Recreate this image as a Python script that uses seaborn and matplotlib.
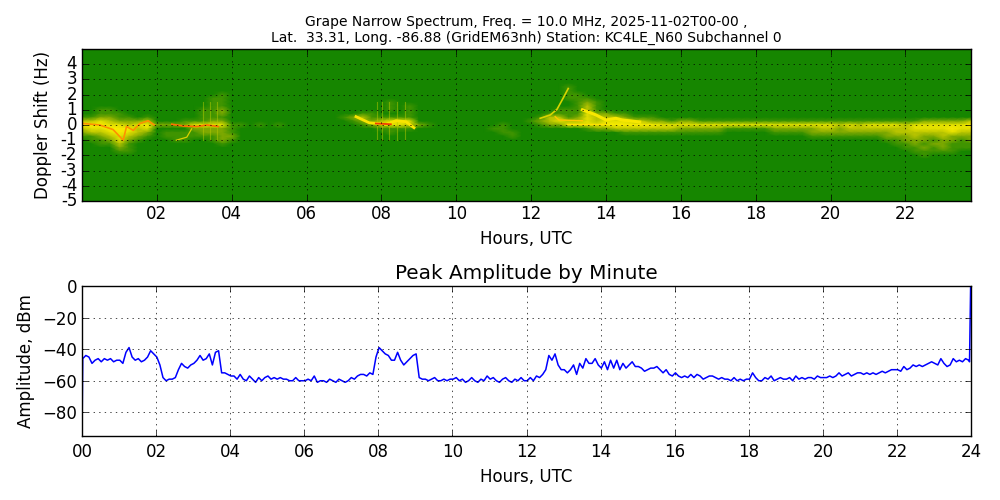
import numpy as np
import pandas as pd
import seaborn as sns
import matplotlib.pyplot as plt
from matplotlib.colors import LinearSegmentedColormap

# spectrogram intensity, 0 = background, 9 = peak
# each band: the hours where it is not background, 4 samples per hour
spec_cells = {
    2.5: {13: "1000"},
    2.25: {13: "1000"},
    2.0: {3: "0001", 13: "1100"},
    1.75: {3: "0011", 13: "1110"},
    1.5: {3: "0011", 8: "0100", 13: "0121"},
    1.25: {3: "0011", 8: "0101", 13: "0131"},
    1.0: {0: "0011", 3: "0112", 8: "0101", 12: "0001", 13: "1131"},
    0.75: {0: "0011", 1: "1000", 3: "0112", 7: "0011", 8: "0001", 12: "0011", 13: "1142", 14: "2110"},
    0.5: {0: "1122", 1: "1101", 3: "0111", 7: "1231", 8: "1111", 12: "0133", 13: "1243", 14: "3321", 15: "1100"},
    0.25: {0: "3343", 1: "2223", 2: "0001", 3: "1122", 7: "0122", 8: "3444", 12: "1234", 13: "3343", 14: "4443",
           15: "3221", 16: "2211", 17: "1111", 18: "1111", 19: "1111", 20: "1111", 21: "1111", 22: "1122", 23: "2223"},
    0.0: {0: "5554", 1: "4345", 2: "2222", 3: "4444", 4: "1101", 5: "0100", 7: "0012", 8: "3443", 9: "2100",
          11: "0100", 12: "0122", 13: "4444", 14: "5555", 15: "5544", 16: "4444", 17: "4444", 18: "4444",
          19: "4444", 20: "4343", 21: "4444", 22: "3444", 23: "4445"},
    -0.25: {0: "3445", 1: "5534", 3: "2222", 4: "1000", 8: "1111", 11: "1100", 13: "0012", 14: "2333", 15: "3333",
            16: "2222", 17: "2111", 18: "1122", 19: "2223", 20: "3233", 21: "3333", 22: "3444", 23: "4544"},
    -0.5: {0: "2334", 1: "5432", 2: "0111", 3: "1222", 4: "1000", 8: "0100", 11: "0110", 14: "0011", 15: "1111",
           16: "1111", 17: "1000", 18: "0011", 19: "1122", 20: "2222", 21: "2223", 22: "3333", 23: "3433"},
    -0.75: {0: "1123", 1: "4321", 2: "0111", 3: "1112", 4: "2000", 11: "0010", 19: "0011", 20: "1111",
            21: "1122", 22: "2322", 23: "3222"},
    -1.0: {0: "0112", 1: "4210", 2: "0011", 3: "0012", 4: "1000", 21: "0011", 22: "2221", 23: "2212"},
    -1.25: {0: "0011", 1: "3100", 3: "0001", 21: "0001", 22: "1212", 23: "2111"},
    -1.5: {1: "2100", 22: "1121", 23: "2111"},
    -1.75: {1: "1100", 22: "0111", 23: "1100"},
    -2.0: {22: "0010"},
}

# carrier traces on the spectrogram (hours, Hz)
trace_a_hours = [0.03, 0.475, 0.83, 1.10, 1.19, 1.37, 1.55, 1.77, 1.93]
trace_a_hz = [0.1, 0.0, -0.3, -1.0, -0.1, -0.35, 0.1, 0.28, 0.0]
trace_b_hours = [2.40, 2.71, 3.07, 3.34, 3.64]
trace_b_hz = [0.05, -0.07, -0.1, 0.0, -0.1]
trace_c_hours = [2.52, 2.80, 2.93]
trace_c_hz = [-1.0, -0.8, -0.25]
trace_d_hours = [7.32, 7.67, 7.90, 8.12, 8.39, 8.65, 8.87]
trace_d_hz = [0.55, 0.15, 0.1, 0.05, 0.28, 0.22, -0.18]
trace_d_red_hours = [7.85, 8.25]
trace_d_red_hz = [0.1, 0.05]
trace_e_hours = [12.24, 12.51, 12.69, 12.85, 12.99]
trace_e_hz = [0.44, 0.66, 1.03, 1.75, 2.4]
trace_f_hours = [12.64, 12.74, 13.37]
trace_f_hz = [0.55, 0.33, 0.28]
trace_g_hours = [12.97, 14.0]
trace_g_hz = [0.05, 0.05]
trace_h_hours = [13.37, 13.73, 14.0, 14.26, 14.43, 14.9]
trace_h_hz = [1.0, 0.66, 0.33, 0.44, 0.33, 0.2]
streak_hours = [3.22, 3.42, 3.61, 7.89, 8.02, 8.19, 8.42, 8.63]

# peak amplitude, one value every 5 min (dBm), one line per hour
amp_values = [
    -46, -44, -45, -49, -47, -46, -48, -46, -47, -46, -48, -47,
    -47, -49, -42, -39, -45, -47, -46, -48, -47, -45, -41, -43,
    -45, -50, -58, -60, -59, -59, -58, -53, -49, -51, -52, -50,
    -49, -47, -44, -47, -46, -43, -50, -42, -41, -55, -55, -56,
    -57, -57, -59, -56, -59, -60, -57, -59, -61, -58, -60, -58,
    -57, -59, -58, -59, -58, -59, -59, -60, -60, -58, -60, -60,
    -60, -59, -60, -57, -61, -60, -60, -61, -59, -60, -61, -59,
    -60, -61, -60, -58, -59, -57, -56, -56, -57, -55, -56, -45,
    -39, -41, -43, -44, -47, -47, -42, -47, -50, -48, -46, -44,
    -43, -58, -59, -59, -60, -59, -58, -60, -60, -59, -60, -59,
    -59, -58, -60, -59, -61, -60, -58, -60, -61, -59, -60, -57,
    -59, -58, -60, -61, -59, -58, -60, -61, -59, -60, -58, -60,
    -60, -58, -60, -57, -58, -56, -53, -44, -47, -43, -50, -53,
    -53, -55, -53, -50, -56, -49, -52, -46, -49, -49, -46, -50,
    -52, -48, -53, -47, -52, -47, -53, -49, -52, -50, -48, -51,
    -51, -52, -54, -53, -52, -52, -51, -53, -55, -53, -56, -57,
    -55, -57, -58, -57, -58, -56, -58, -56, -57, -59, -58, -57,
    -57, -58, -59, -58, -59, -59, -60, -58, -60, -59, -60, -59,
    -59, -55, -58, -60, -60, -58, -59, -57, -60, -59, -58, -59,
    -59, -58, -60, -57, -59, -58, -59, -58, -58, -59, -57, -58,
    -58, -58, -57, -58, -57, -55, -57, -56, -55, -57, -56, -55,
    -55, -56, -55, -56, -55, -56, -55, -54, -55, -54, -53, -53,
    -53, -54, -51, -53, -52, -50, -51, -50, -51, -50, -49, -48,
    -49, -50, -46, -49, -51, -50, -46, -48, -47, -48, -46, -47,
]
amp_start_hours = [0.0]
amp_start_values = [-95]
amp_end_hours = [23.96, 23.99]
amp_end_values = [-48, 0]

spec_xticks = ["02", "04", "06", "08", "10", "12", "14", "16", "18", "20", "22"]
spec_yticks = ["4", "3", "2", "1", "0", "-1", "-2", "-3", "-4", "-5"]
amp_xticks = ["00", "02", "04", "06", "08", "10", "12", "14", "16", "18", "20", "22", "24"]

SAMPLES_PER_HOUR = 4
SAMPLES_PER_HZ = 4
N_COLS = 96
N_ROWS = 41


def band_row(hz):
    row = [0] * N_COLS
    for hour, cells in spec_cells.get(hz, {}).items():
        for i, c in enumerate(cells):
            row[hour * SAMPLES_PER_HOUR + i] = int(c)
    return row


hz_values = 5 - np.arange(N_ROWS) / SAMPLES_PER_HZ
spec = pd.DataFrame([band_row(float(hz)) for hz in hz_values])

spec_cmap = LinearSegmentedColormap.from_list(
    "grape",
    ["#168600", "#3f9400", "#80aa00", "#b8c400", "#e4e000", "#f8ec00", "#ffc000", "#ff6000", "#f00000", "#d00000"],
)


def to_samples(hours, hz):
    # with gouraud shading the mesh nodes sit on whole numbers, row 0 on top at +5 Hz
    return np.array(hours) * SAMPLES_PER_HOUR, (5 - np.array(hz)) * SAMPLES_PER_HZ


def draw_trace(ax, hours, hz, color, lw):
    x, y = to_samples(hours, hz)
    sns.lineplot(x=x, y=y, ax=ax, color=color, lw=lw, estimator=None, sort=False, legend=False)


fig = plt.figure(figsize=(10, 5), dpi=100)
ax_spec = fig.add_axes([0.082, 0.598, 0.889, 0.304])
ax_amp = fig.add_axes([0.082, 0.128, 0.889, 0.300])

sns.heatmap(spec, ax=ax_spec, cmap=spec_cmap, vmin=0, vmax=9, cbar=False, shading="gouraud")

for h in streak_hours:
    x, y = to_samples([h, h], [1.5, -1.0])
    ax_spec.plot(x, y, color="#b8c800", lw=0.8, alpha=0.5)

draw_trace(ax_spec, trace_c_hours, trace_c_hz, "#d8d000", 0.9)
draw_trace(ax_spec, trace_e_hours, trace_e_hz, "#d8d400", 1.2)
draw_trace(ax_spec, trace_f_hours, trace_f_hz, "#ffc800", 1.0)
draw_trace(ax_spec, trace_g_hours, trace_g_hz, "#ffe000", 1.0)
draw_trace(ax_spec, trace_h_hours, trace_h_hz, "#f8e800", 2.2)
draw_trace(ax_spec, trace_a_hours, trace_a_hz, "#ff9000", 1.2)
draw_trace(ax_spec, trace_b_hours, trace_b_hz, "#ff7000", 1.2)
draw_trace(ax_spec, trace_d_hours, trace_d_hz, "#f8e400", 2.0)
draw_trace(ax_spec, trace_d_red_hours, trace_d_red_hz, "#f04000", 1.3)

ax_spec.set_xticks([2 * (i + 1) * SAMPLES_PER_HOUR for i in range(len(spec_xticks))])
ax_spec.set_xticklabels(spec_xticks, rotation=0)
ax_spec.set_yticks([(i + 1) * SAMPLES_PER_HZ for i in range(len(spec_yticks))])
ax_spec.set_yticklabels(spec_yticks, rotation=0)
ax_spec.set_xlim(0, N_COLS - 1)
ax_spec.set_ylim(N_ROWS - 1, 0)
ax_spec.set_xlabel("Hours, UTC", fontsize=12, labelpad=5)
ax_spec.set_ylabel("Doppler Shift (Hz)", fontsize=12, labelpad=6)
ax_spec.set_title(
    "Grape Narrow Spectrum, Freq. = 10.0 MHz, 2025-11-02T00-00 ,\n"
    "Lat.  33.31, Long. -86.88 (GridEM63nh) Station: KC4LE_N60 Subchannel 0",
    fontsize=10, pad=5,
)

amp_hours = np.arange(len(amp_values)) * 5 / 60 + 0.02
sns.lineplot(
    x=np.concatenate([amp_start_hours, amp_hours, amp_end_hours]),
    y=np.concatenate([amp_start_values, amp_values, amp_end_values]),
    ax=ax_amp, color="blue", lw=1.1, estimator=None, sort=False,
)
ax_amp.set_xlim(0, 24)
ax_amp.set_ylim(-95, 0)
ax_amp.set_xticks(range(0, 25, 2))
ax_amp.set_xticklabels(amp_xticks)
ax_amp.set_yticks([0, -20, -40, -60, -80])
ax_amp.set_xlabel("Hours, UTC", fontsize=12, labelpad=5)
ax_amp.set_ylabel("Amplitude, dBm", fontsize=12, labelpad=5)
ax_amp.set_title("Peak Amplitude by Minute", fontsize=14.4, pad=5)

for ax in (ax_spec, ax_amp):
    for spine in ax.spines.values():
        spine.set_visible(True)
        spine.set_color("black")
        spine.set_linewidth(1.0)
    ax.tick_params(direction="in", length=4, width=0.5, top=True, right=True, labelsize=12)
    ax.grid(True, color="black", linestyle=(0, (2, 6)), linewidth=0.5)
    ax.set_axisbelow(False)

ax_spec.tick_params(axis="x", pad=3)
ax_amp.tick_params(axis="x", pad=5)

fig.savefig("out.png", dpi=100)
plt.close(fig)
